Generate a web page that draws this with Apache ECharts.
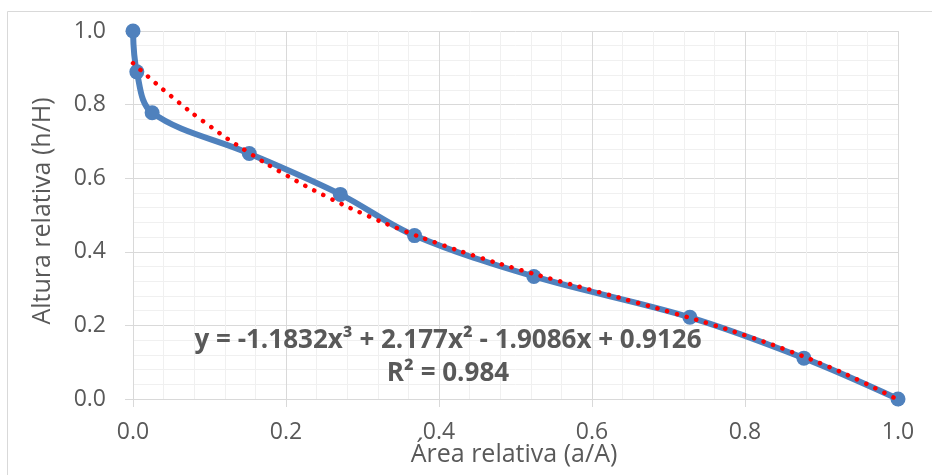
<!DOCTYPE html>
<html>
<head>
<meta charset="utf-8">
<script src="https://cdn.jsdelivr.net/npm/echarts@6/dist/echarts.min.js"></script>
<style>html,body{margin:0;padding:0;background:#fff}#c{width:932px;height:475px}</style>
</head>
<body>
<div id="c"></div>
<script>
// Observed data (relative area vs relative height)
var areaRel = [0.0, 0.005, 0.025, 0.152, 0.271, 0.368, 0.524, 0.728, 0.877, 1.0];
var heightRel = [1.0, 0.889, 0.778, 0.667, 0.556, 0.444, 0.333, 0.222, 0.111, 0.0];
// Trendline (polynomial, order 3)
var trendX = [0.0, 0.05, 0.1, 0.15, 0.2, 0.25, 0.3, 0.35, 0.4, 0.45, 0.5, 0.55, 0.6, 0.65, 0.7, 0.75, 0.8, 0.85, 0.9, 0.95, 1.0];
var trendY = [0.9126, 0.8225, 0.7423, 0.6713, 0.6085, 0.5530, 0.5040, 0.4605, 0.4218, 0.3868, 0.3547, 0.3246, 0.2956, 0.2669, 0.2375, 0.2066, 0.1732, 0.1365, 0.0957, 0.0497, -0.0022];
var xTicks = ['0.0', '0.2', '0.4', '0.6', '0.8', '1.0'];
var yTicks = ['0.0', '0.2', '0.4', '0.6', '0.8', '1.0'];
var xTitle = 'Área relativa (a/A)';
var yTitle = 'Altura relativa (h/H)';
var eqLine1 = 'y = -1.1832x³ + 2.177x² - 1.9086x + 0.9126';
var eqLine2 = 'R² = 0.984';

var FONT = '"Open Sans"';
var chart = echarts.init(document.getElementById('c'));
function pairs(xs, ys){ return xs.map(function(x,i){ return [x, ys[i]]; }); }
var axisCommon = {
  type: 'value', min: 0, max: 1, interval: 0.2,
  axisLine: { show: true, lineStyle: { color: '#D9D9D9', width: 1 } },
  axisTick: { show: true, length: 8, lineStyle: { color: '#D9D9D9' } },
  splitLine: { show: true, lineStyle: { color: '#D9D9D9', width: 1 } },
  minorTick: { show: false, splitNumber: 5 },
  minorSplitLine: { show: true, lineStyle: { color: '#F0F0F0', width: 1 } }
};
chart.setOption({
  backgroundColor: '#fff',
  animation: false,
  grid: { left: 133, right: 34, top: 31, bottom: 76 },
  xAxis: Object.assign({}, axisCommon, {
    axisLabel: { margin: 22, fontFamily: FONT, fontSize: 23, color: '#595959',
      formatter: function(v){ return xTicks[Math.round(v/0.2)]; } }
  }),
  yAxis: Object.assign({}, axisCommon, {
    axisLabel: { margin: 27, fontFamily: FONT, fontSize: 23, color: '#595959',
      formatter: function(v){ return yTicks[Math.round(v/0.2)]; } }
  }),
  series: [
    { type: 'line', data: pairs(areaRel, heightRel), smooth: 0.35,
      lineStyle: { color: '#4F81BD', width: 6 },
      itemStyle: { color: '#4F81BD' }, symbol: 'circle', symbolSize: 15, z: 2 },
    { type: 'line', data: pairs(trendX, trendY), smooth: true, showSymbol: false, symbol: 'none',
      lineStyle: { color: '#FF0000', width: 4.5, type: [0.1, 10], cap: 'round' }, z: 3 }
  ],
  graphic: [
    { type: 'rect', shape: { x: 7.5, y: 11.5, width: 940, height: 480 },
      style: { fill: 'none', stroke: '#D9D9D9', lineWidth: 1 }, silent: true },
    { type: 'text', x: 514, y: 455, style: { text: xTitle, font: '25px ' + FONT, fill: '#595959', align: 'center', verticalAlign: 'middle' } },
    { type: 'text', x: 43, y: 211, rotation: Math.PI/2, style: { text: yTitle, font: '25px ' + FONT, fill: '#595959', align: 'center', verticalAlign: 'middle' } },
    { type: 'text', x: 448, y: 341, z: 10, style: { text: eqLine1, font: 'bold 26px ' + FONT, fill: '#595959', align: 'center', verticalAlign: 'middle' } },
    { type: 'text', x: 448, y: 374, z: 10, style: { text: eqLine2, font: 'bold 26px ' + FONT, fill: '#595959', align: 'center', verticalAlign: 'middle' } }
  ]
});
</script>
</body>
</html>
